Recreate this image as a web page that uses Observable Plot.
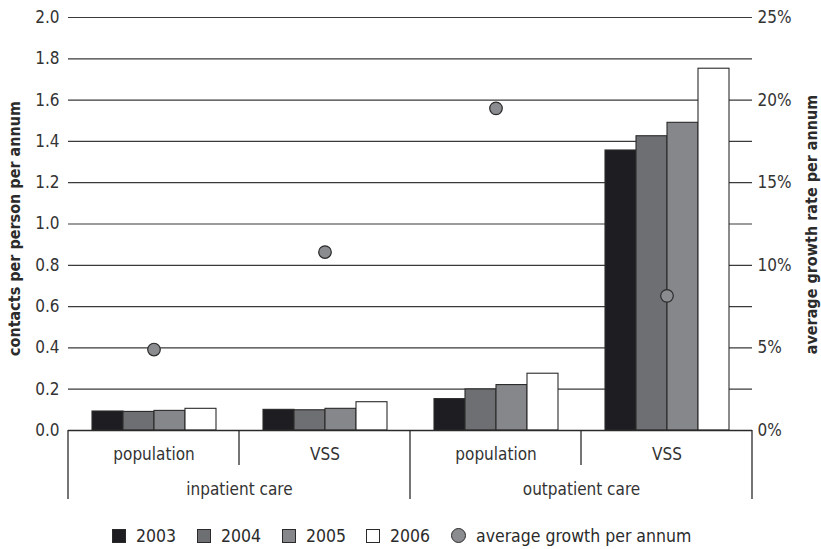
<!DOCTYPE html>
<html>
<head>
<meta charset="utf-8">
<script src="https://cdn.jsdelivr.net/npm/d3@7"></script>
<script src="https://cdn.jsdelivr.net/npm/@observablehq/plot@0.6"></script>
<style>
  body { margin: 0; background: #fff; color: #2b2b2b;
         font-family: "Liberation Sans Narrow", "DejaVu Sans Condensed", Roboto, sans-serif; }
  #legend { position: relative; height: 37px; font-size: 17.5px; }
  #legend .item { position: absolute; top: 5px; height: 37px; display: flex; align-items: center; }
  #legend .sw { width: 14px; height: 14px; border: 1px solid #2a2a2a; box-sizing: border-box; margin-right: 10px; }
  #legend .dot { border-radius: 50%; width: 15px; height: 15px; }
</style>
</head>
<body>
<div id="chart"></div>
<div id="legend"></div>
<script>
// ---- data ----
const careTypes = ["inpatient care", "outpatient care"];
const populations = ["population", "VSS"];
const years = ["2003", "2004", "2005", "2006"];
// contacts per person per annum, in group order: inpatient pop, inpatient VSS, outpatient pop, outpatient VSS
const contacts2003 = [0.092, 0.100, 0.152, 1.356];
const contacts2004 = [0.090, 0.098, 0.199, 1.425];
const contacts2005 = [0.095, 0.105, 0.220, 1.490];
const contacts2006 = [0.105, 0.137, 0.275, 1.752];
// average growth per annum (%)
const avgGrowth = [4.9, 10.8, 19.5, 8.15];
const yTicks = [0, 0.2, 0.4, 0.6, 0.8, 1.0, 1.2, 1.4, 1.6, 1.8, 2.0];
const growthTicks = [0, 5, 10, 15, 20, 25];
const barColors = ["#1e1d22", "#6e6f72", "#85878b", "#ffffff"];
const dotColor = "#8b8c90";
const FONT = '"Liberation Sans Narrow", "DejaVu Sans Condensed", Roboto, sans-serif';

// ---- derived tables ----
const contactsMax = 2.0, growthMax = 25;
const ratio = contactsMax / growthMax;
const series = [contacts2003, contacts2004, contacts2005, contacts2006];
const groups = careTypes.flatMap(c => populations.map(p => ({care: c, pop: p, key: c + "|" + p})));
const bars = years.flatMap((yr, j) => groups.map((g, i) => ({key: g.key, year: yr, value: series[j][i]})));
const dots = groups.map((g, i) => ({key: g.key, rate: avgGrowth[i]}));
const careLabels = careTypes.map(c => ({key: c + "|" + populations[0], text: c}));

const plot = Plot.plot({
  width: 821, height: 512,
  marginTop: 17, marginBottom: 82, marginLeft: 67, marginRight: 69,
  style: {fontFamily: FONT, fontSize: "17px", color: "#333", background: "#fff"},
  fx: {domain: groups.map(g => g.key), padding: 0},
  x: {domain: years, paddingInner: 0, paddingOuter: 0.74, axis: null},
  y: {domain: [0, contactsMax]},
  color: {domain: years, range: barColors},
  marks: [
    Plot.ruleY(yTicks.slice(1), {stroke: "#3a3a3a", strokeWidth: 1.2}),
    Plot.barY(bars, {fx: "key", x: "year", y: "value", fill: "year", stroke: "#2a2a2a", strokeWidth: 1.1}),
    Plot.ruleY([0], {stroke: "#2a2a2a", strokeWidth: 1.3}),
    Plot.dot(dots, {fx: "key", y: d => d.rate * ratio, frameAnchor: "middle", r: 6.3,
                    fill: dotColor, stroke: "#2a2a2a", strokeWidth: 1.2}),
    Plot.axisY(yTicks, {anchor: "left", tickSize: 0, tickPadding: 9, tickFormat: d3.format(".1f"), label: null}),
    Plot.axisY(growthTicks.map(g => g * ratio), {anchor: "right", tickSize: 0, tickPadding: 5,
               tickFormat: d => Math.round(d / ratio) + "%", label: null}),
    Plot.axisFx({anchor: "bottom", tickSize: 0, tickPadding: 17, tickFormat: k => k.split("|")[1], label: null}),
    Plot.text(careLabels, {fx: "key", text: "text", frameAnchor: "bottom-right", textAnchor: "middle", dy: 64})
  ]
});
document.getElementById("chart").appendChild(plot);

// ---- category separators and axis titles, positioned with the plot's own scales ----
const svg = d3.select(plot.tagName.toLowerCase() === "svg" ? plot : plot.querySelector("svg"));
const fxS = plot.scale("fx"), yS = plot.scale("y");
const y0 = yS.apply(0), yTop = yS.apply(contactsMax);
const bw = fxS.bandwidth;
const edges = groups.map((g, i) => ({x: fxS.apply(g.key), long: i % populations.length === 0}));
edges.push({x: fxS.apply(groups[groups.length - 1].key) + bw, long: true});
svg.append("g").selectAll("line").data(edges).join("line")
  .attr("x1", d => d.x).attr("x2", d => d.x)
  .attr("y1", y0).attr("y2", d => y0 + (d.long ? 69 : 35))
  .attr("stroke", "#2a2a2a").attr("stroke-width", 1.3);
const yMid = (y0 + yTop) / 2 + 5;
const xLeft = fxS.apply(groups[0].key), xRight = fxS.apply(groups[groups.length - 1].key) + bw;
svg.append("text").text("contacts per person per annum")
  .attr("transform", `translate(${xLeft - 53},${yMid}) rotate(-90)`)
  .attr("text-anchor", "middle").attr("dominant-baseline", "middle")
  .attr("font-weight", "bold").attr("font-size", 16).attr("fill", "#2b2b2b");
svg.append("text").text("average growth rate per annum")
  .attr("transform", `translate(${xRight + 60},${yMid - 4}) rotate(-90)`)
  .attr("text-anchor", "middle").attr("dominant-baseline", "middle")
  .attr("font-weight", "bold").attr("font-size", 16).attr("fill", "#2b2b2b");

// ---- legend ----
const legendItems = years.map((y, i) => ({label: y, color: barColors[i], dot: false}))
  .concat([{label: "average growth per annum", color: dotColor, dot: true}]);
const legendX = [112, 197, 282, 366, 451];
const leg = d3.select("#legend");
legendItems.forEach((d, i) => {
  const it = leg.append("div").attr("class", "item").style("left", legendX[i] + "px");
  it.append("div").attr("class", "sw" + (d.dot ? " dot" : "")).style("background", d.color);
  it.append("span").text(d.label);
});
</script>
</body>
</html>
